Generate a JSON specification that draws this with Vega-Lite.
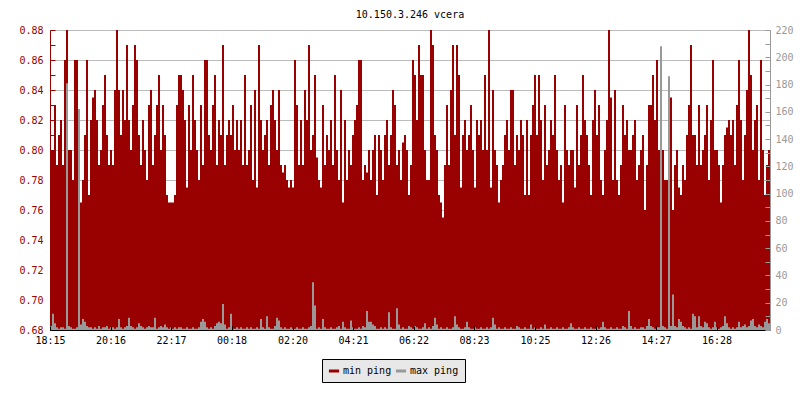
{
  "$schema": "https://vega.github.io/schema/vega-lite/v6.json",
  "width": 720,
  "height": 300,
  "autosize": {"type": "none"},
  "padding": {"left": 50, "top": 30, "right": 30, "bottom": 70},
  "background": "white",
  "title": {"text": "10.150.3.246 vcera", "font": "DejaVu Sans Mono", "fontSize": 10, "fontWeight": "normal", "color": "black", "anchor": "middle", "frame": "group", "offset": 5},
  "config": {"view": {"stroke": null}, "font": "DejaVu Sans Mono"},
  "data": {"values": [
    {"t":0,"a":0.80,"b":3},{"t":4,"a":0.80,"b":12},{"t":8,"a":0.83,"b":5},{"t":12,"a":0.79,"b":2},{"t":16,"a":0.81,"b":1},{"t":20,"a":0.82,"b":2},{"t":24,"a":0.79,"b":2},{"t":28,"a":0.86,"b":1},{"t":32,"a":0.88,"b":181},{"t":36,"a":0.80,"b":3},
    {"t":40,"a":0.80,"b":2},{"t":44,"a":0.78,"b":1},{"t":48,"a":0.86,"b":1},{"t":52,"a":0.86,"b":2},{"t":56,"a":0.77,"b":162},{"t":60,"a":0.765,"b":4},{"t":64,"a":0.78,"b":8},{"t":68,"a":0.81,"b":6},{"t":72,"a":0.86,"b":3},{"t":76,"a":0.77,"b":2},
    {"t":80,"a":0.82,"b":2},{"t":84,"a":0.835,"b":1},{"t":88,"a":0.84,"b":2},{"t":92,"a":0.82,"b":1},{"t":96,"a":0.79,"b":3},{"t":100,"a":0.80,"b":1},{"t":104,"a":0.83,"b":2},{"t":108,"a":0.85,"b":2},{"t":112,"a":0.81,"b":3},{"t":116,"a":0.79,"b":1},
    {"t":120,"a":0.80,"b":2},{"t":124,"a":0.79,"b":2},{"t":128,"a":0.84,"b":1},{"t":132,"a":0.88,"b":2},{"t":136,"a":0.84,"b":8},{"t":140,"a":0.81,"b":2},{"t":144,"a":0.84,"b":1},{"t":148,"a":0.82,"b":2},{"t":152,"a":0.87,"b":3},{"t":156,"a":0.82,"b":9},
    {"t":160,"a":0.80,"b":3},{"t":164,"a":0.83,"b":2},{"t":168,"a":0.87,"b":1},{"t":172,"a":0.86,"b":2},{"t":176,"a":0.81,"b":5},{"t":180,"a":0.79,"b":3},{"t":184,"a":0.82,"b":2},{"t":188,"a":0.80,"b":1},{"t":192,"a":0.78,"b":2},{"t":196,"a":0.83,"b":3},
    {"t":200,"a":0.84,"b":2},{"t":204,"a":0.79,"b":2},{"t":208,"a":0.81,"b":9},{"t":212,"a":0.83,"b":1},{"t":216,"a":0.85,"b":2},{"t":220,"a":0.80,"b":3},{"t":224,"a":0.83,"b":2},{"t":228,"a":0.81,"b":4},{"t":232,"a":0.77,"b":2},{"t":236,"a":0.765,"b":1},
    {"t":240,"a":0.765,"b":2},{"t":244,"a":0.765,"b":1},{"t":248,"a":0.77,"b":2},{"t":252,"a":0.83,"b":1},{"t":256,"a":0.85,"b":2},{"t":260,"a":0.85,"b":2},{"t":264,"a":0.84,"b":1},{"t":268,"a":0.82,"b":1},{"t":272,"a":0.775,"b":2},{"t":276,"a":0.83,"b":1},
    {"t":280,"a":0.80,"b":1},{"t":284,"a":0.85,"b":2},{"t":288,"a":0.82,"b":1},{"t":292,"a":0.80,"b":1},{"t":296,"a":0.78,"b":2},{"t":300,"a":0.83,"b":6},{"t":304,"a":0.79,"b":8},{"t":308,"a":0.86,"b":6},{"t":312,"a":0.86,"b":2},{"t":316,"a":0.81,"b":1},
    {"t":320,"a":0.80,"b":2},{"t":324,"a":0.83,"b":1},{"t":328,"a":0.85,"b":3},{"t":332,"a":0.79,"b":5},{"t":336,"a":0.82,"b":6},{"t":340,"a":0.81,"b":5},{"t":344,"a":0.87,"b":19},{"t":348,"a":0.79,"b":4},{"t":352,"a":0.81,"b":1},{"t":356,"a":0.82,"b":2},
    {"t":360,"a":0.81,"b":12},{"t":364,"a":0.83,"b":1},{"t":368,"a":0.80,"b":1},{"t":372,"a":0.82,"b":2},{"t":376,"a":0.80,"b":1},{"t":380,"a":0.82,"b":2},{"t":384,"a":0.79,"b":1},{"t":388,"a":0.85,"b":1},{"t":392,"a":0.79,"b":2},{"t":396,"a":0.80,"b":1},
    {"t":400,"a":0.83,"b":2},{"t":404,"a":0.78,"b":1},{"t":408,"a":0.84,"b":1},{"t":412,"a":0.775,"b":2},{"t":416,"a":0.87,"b":1},{"t":420,"a":0.82,"b":8},{"t":424,"a":0.80,"b":2},{"t":428,"a":0.81,"b":1},{"t":432,"a":0.82,"b":10},{"t":436,"a":0.79,"b":2},
    {"t":440,"a":0.83,"b":1},{"t":444,"a":0.84,"b":1},{"t":448,"a":0.82,"b":3},{"t":452,"a":0.80,"b":9},{"t":456,"a":0.84,"b":7},{"t":460,"a":0.79,"b":2},{"t":464,"a":0.785,"b":1},{"t":468,"a":0.79,"b":2},{"t":472,"a":0.78,"b":1},{"t":476,"a":0.775,"b":1},
    {"t":480,"a":0.78,"b":2},{"t":484,"a":0.775,"b":1},{"t":488,"a":0.86,"b":1},{"t":492,"a":0.83,"b":2},{"t":496,"a":0.79,"b":1},{"t":500,"a":0.82,"b":1},{"t":504,"a":0.79,"b":2},{"t":508,"a":0.84,"b":1},{"t":512,"a":0.82,"b":1},{"t":516,"a":0.87,"b":2},
    {"t":520,"a":0.80,"b":3},{"t":524,"a":0.81,"b":35},{"t":528,"a":0.85,"b":18},{"t":532,"a":0.795,"b":1},{"t":536,"a":0.78,"b":2},{"t":540,"a":0.775,"b":1},{"t":544,"a":0.83,"b":8},{"t":548,"a":0.79,"b":2},{"t":552,"a":0.81,"b":1},{"t":556,"a":0.80,"b":1},
    {"t":560,"a":0.82,"b":2},{"t":564,"a":0.79,"b":1},{"t":568,"a":0.85,"b":1},{"t":572,"a":0.80,"b":2},{"t":576,"a":0.78,"b":3},{"t":580,"a":0.84,"b":1},{"t":584,"a":0.765,"b":6},{"t":588,"a":0.82,"b":2},{"t":592,"a":0.78,"b":1},{"t":596,"a":0.80,"b":1},
    {"t":600,"a":0.79,"b":7},{"t":604,"a":0.81,"b":2},{"t":608,"a":0.82,"b":1},{"t":612,"a":0.83,"b":1},{"t":616,"a":0.86,"b":2},{"t":620,"a":0.86,"b":1},{"t":624,"a":0.78,"b":3},{"t":628,"a":0.79,"b":2},{"t":632,"a":0.785,"b":14},{"t":636,"a":0.80,"b":6},
    {"t":640,"a":0.78,"b":6},{"t":644,"a":0.80,"b":4},{"t":648,"a":0.81,"b":3},{"t":652,"a":0.77,"b":1},{"t":656,"a":0.81,"b":1},{"t":660,"a":0.80,"b":2},{"t":664,"a":0.78,"b":1},{"t":668,"a":0.81,"b":2},{"t":672,"a":0.82,"b":1},{"t":676,"a":0.79,"b":13},
    {"t":680,"a":0.81,"b":2},{"t":684,"a":0.84,"b":1},{"t":688,"a":0.83,"b":1},{"t":692,"a":0.79,"b":16},{"t":696,"a":0.80,"b":4},{"t":700,"a":0.78,"b":1},{"t":704,"a":0.805,"b":2},{"t":708,"a":0.81,"b":1},{"t":712,"a":0.80,"b":1},{"t":716,"a":0.77,"b":3},
    {"t":720,"a":0.79,"b":2},{"t":724,"a":0.86,"b":1},{"t":728,"a":0.85,"b":3},{"t":732,"a":0.82,"b":2},{"t":736,"a":0.87,"b":1},{"t":740,"a":0.85,"b":1},{"t":744,"a":0.85,"b":2},{"t":748,"a":0.80,"b":5},{"t":752,"a":0.78,"b":1},{"t":756,"a":0.78,"b":2},
    {"t":760,"a":0.88,"b":1},{"t":764,"a":0.87,"b":3},{"t":768,"a":0.81,"b":9},{"t":772,"a":0.80,"b":4},{"t":776,"a":0.77,"b":1},{"t":780,"a":0.765,"b":2},{"t":784,"a":0.755,"b":1},{"t":788,"a":0.79,"b":1},{"t":792,"a":0.83,"b":2},{"t":796,"a":0.79,"b":1},
    {"t":800,"a":0.84,"b":1},{"t":804,"a":0.87,"b":2},{"t":808,"a":0.81,"b":10},{"t":812,"a":0.87,"b":4},{"t":816,"a":0.85,"b":2},{"t":820,"a":0.775,"b":1},{"t":824,"a":0.81,"b":1},{"t":828,"a":0.82,"b":2},{"t":832,"a":0.80,"b":6},{"t":836,"a":0.81,"b":2},
    {"t":840,"a":0.83,"b":1},{"t":844,"a":0.80,"b":1},{"t":848,"a":0.775,"b":2},{"t":852,"a":0.82,"b":1},{"t":856,"a":0.81,"b":1},{"t":860,"a":0.82,"b":2},{"t":864,"a":0.80,"b":1},{"t":868,"a":0.85,"b":1},{"t":872,"a":0.80,"b":2},{"t":876,"a":0.88,"b":1},
    {"t":880,"a":0.775,"b":2},{"t":884,"a":0.84,"b":9},{"t":888,"a":0.80,"b":4},{"t":892,"a":0.79,"b":1},{"t":896,"a":0.765,"b":2},{"t":900,"a":0.78,"b":1},{"t":904,"a":0.79,"b":1},{"t":908,"a":0.81,"b":2},{"t":912,"a":0.82,"b":1},{"t":916,"a":0.80,"b":1},
    {"t":920,"a":0.84,"b":2},{"t":924,"a":0.84,"b":1},{"t":928,"a":0.79,"b":1},{"t":932,"a":0.81,"b":3},{"t":936,"a":0.80,"b":2},{"t":940,"a":0.82,"b":1},{"t":944,"a":0.81,"b":1},{"t":948,"a":0.77,"b":2},{"t":952,"a":0.82,"b":1},{"t":956,"a":0.77,"b":1},
    {"t":960,"a":0.81,"b":4},{"t":964,"a":0.83,"b":1},{"t":968,"a":0.85,"b":2},{"t":972,"a":0.81,"b":1},{"t":976,"a":0.85,"b":1},{"t":980,"a":0.82,"b":2},{"t":984,"a":0.78,"b":1},{"t":988,"a":0.83,"b":4},{"t":992,"a":0.79,"b":1},{"t":996,"a":0.80,"b":1},
    {"t":1000,"a":0.82,"b":2},{"t":1004,"a":0.81,"b":1},{"t":1008,"a":0.85,"b":1},{"t":1012,"a":0.80,"b":2},{"t":1016,"a":0.78,"b":1},{"t":1020,"a":0.79,"b":1},{"t":1024,"a":0.765,"b":2},{"t":1028,"a":0.83,"b":1},{"t":1032,"a":0.80,"b":1},{"t":1036,"a":0.79,"b":2},
    {"t":1040,"a":0.80,"b":5},{"t":1044,"a":0.80,"b":2},{"t":1048,"a":0.775,"b":1},{"t":1052,"a":0.83,"b":1},{"t":1056,"a":0.79,"b":2},{"t":1060,"a":0.81,"b":1},{"t":1064,"a":0.85,"b":1},{"t":1068,"a":0.82,"b":2},{"t":1072,"a":0.81,"b":1},{"t":1076,"a":0.79,"b":1},
    {"t":1080,"a":0.77,"b":2},{"t":1084,"a":0.82,"b":1},{"t":1088,"a":0.84,"b":1},{"t":1092,"a":0.81,"b":2},{"t":1096,"a":0.83,"b":1},{"t":1100,"a":0.78,"b":2},{"t":1104,"a":0.77,"b":6},{"t":1108,"a":0.80,"b":2},{"t":1112,"a":0.82,"b":1},{"t":1116,"a":0.88,"b":1},
    {"t":1120,"a":0.835,"b":2},{"t":1124,"a":0.78,"b":1},{"t":1128,"a":0.84,"b":1},{"t":1132,"a":0.78,"b":2},{"t":1136,"a":0.77,"b":1},{"t":1140,"a":0.79,"b":1},{"t":1144,"a":0.83,"b":3},{"t":1148,"a":0.81,"b":2},{"t":1152,"a":0.82,"b":1},{"t":1156,"a":0.80,"b":14},
    {"t":1160,"a":0.80,"b":3},{"t":1164,"a":0.81,"b":1},{"t":1168,"a":0.82,"b":2},{"t":1172,"a":0.78,"b":1},{"t":1176,"a":0.79,"b":1},{"t":1180,"a":0.80,"b":2},{"t":1184,"a":0.81,"b":2},{"t":1188,"a":0.76,"b":1},{"t":1192,"a":0.79,"b":3},{"t":1196,"a":0.83,"b":8},
    {"t":1200,"a":0.83,"b":3},{"t":1204,"a":0.85,"b":2},{"t":1208,"a":0.82,"b":1},{"t":1212,"a":0.86,"b":2},{"t":1216,"a":0.80,"b":2},{"t":1220,"a":0.78,"b":208},{"t":1224,"a":0.80,"b":3},{"t":1228,"a":0.78,"b":2},{"t":1232,"a":0.78,"b":1},{"t":1236,"a":0.80,"b":186},
    {"t":1240,"a":0.835,"b":3},{"t":1244,"a":0.76,"b":26},{"t":1248,"a":0.79,"b":3},{"t":1252,"a":0.80,"b":2},{"t":1256,"a":0.775,"b":8},{"t":1260,"a":0.77,"b":6},{"t":1264,"a":0.79,"b":3},{"t":1268,"a":0.78,"b":2},{"t":1272,"a":0.81,"b":1},{"t":1276,"a":0.83,"b":2},
    {"t":1280,"a":0.87,"b":1},{"t":1284,"a":0.81,"b":12},{"t":1288,"a":0.81,"b":10},{"t":1292,"a":0.79,"b":2},{"t":1296,"a":0.83,"b":10},{"t":1300,"a":0.79,"b":3},{"t":1304,"a":0.80,"b":2},{"t":1308,"a":0.81,"b":6},{"t":1312,"a":0.83,"b":5},{"t":1316,"a":0.78,"b":2},
    {"t":1320,"a":0.82,"b":1},{"t":1324,"a":0.86,"b":2},{"t":1328,"a":0.80,"b":6},{"t":1332,"a":0.80,"b":2},{"t":1336,"a":0.79,"b":1},{"t":1340,"a":0.765,"b":2},{"t":1344,"a":0.79,"b":3},{"t":1348,"a":0.81,"b":10},{"t":1352,"a":0.815,"b":5},{"t":1356,"a":0.82,"b":2},
    {"t":1360,"a":0.81,"b":1},{"t":1364,"a":0.82,"b":2},{"t":1368,"a":0.79,"b":1},{"t":1372,"a":0.83,"b":2},{"t":1376,"a":0.86,"b":6},{"t":1380,"a":0.82,"b":2},{"t":1384,"a":0.78,"b":3},{"t":1388,"a":0.81,"b":4},{"t":1392,"a":0.84,"b":2},{"t":1396,"a":0.88,"b":3},
    {"t":1400,"a":0.85,"b":7},{"t":1404,"a":0.80,"b":8},{"t":1408,"a":0.82,"b":3},{"t":1412,"a":0.83,"b":2},{"t":1416,"a":0.78,"b":4},{"t":1420,"a":0.86,"b":3},{"t":1424,"a":0.80,"b":2},{"t":1428,"a":0.77,"b":6},{"t":1432,"a":0.79,"b":8},{"t":1436,"a":0.80,"b":5},
    {"t":1440,"a":0.80,"b":5}
  ]},
  "encoding": {
    "x": {
      "field": "t", "type": "quantitative",
      "scale": {"domain": [0, 1440], "nice": false, "zero": false},
      "axis": {
        "values": [0, 121, 242, 363, 485, 606, 727, 848, 970, 1091, 1212, 1333],
        "labelExpr": "timeFormat(datetime(2024, 0, 1, 18, 15 + datum.value, 0), '%H:%M')",
        "title": null, "grid": false,
        "domainColor": "black", "tickColor": "black", "tickSize": -4,
        "labelColor": "black", "labelFont": "DejaVu Sans Mono", "labelFontSize": 10,
        "labelPadding": 9, "labelFlush": false, "labelOverlap": false, "zindex": 1
      }
    }
  },
  "layer": [
    {
      "mark": {"type": "area", "interpolate": "step-after"},
      "encoding": {
        "y": {
          "field": "a", "type": "quantitative",
          "scale": {"domain": [0.68, 0.88], "nice": false, "zero": false},
          "axis": {
            "values": [0.68, 0.69, 0.70, 0.71, 0.72, 0.73, 0.74, 0.75, 0.76, 0.77, 0.78, 0.79, 0.80, 0.81, 0.82, 0.83, 0.84, 0.85, 0.86, 0.87, 0.88],
            "labelExpr": "round(datum.value * 100) % 2 == 0 ? format(datum.value, '.2f') : ''",
            "title": null, "grid": true, "gridColor": "#bbbbbb",
            "gridOpacity": {"condition": {"test": "round(datum.value * 100) % 2 == 0", "value": 1}, "value": 0},
            "domainColor": "#990000", "tickColor": "#990000", "tickSize": -5,
            "labelColor": "#990000", "labelFont": "DejaVu Sans Mono", "labelFontSize": 10,
            "labelPadding": 12, "labelOverlap": false, "labelFlush": false, "zindex": 0
          }
        },
        "y2": {"datum": 0.68},
        "color": {
          "datum": "min ping", "type": "nominal",
          "scale": {"domain": ["min ping", "max ping"], "range": ["#990000", "#999999"]},
          "legend": {
            "orient": "none", "legendX": 272, "legendY": 329, "direction": "horizontal",
            "title": null, "fillColor": "#e8e8e8", "strokeColor": "black", "padding": 6,
            "symbolType": "M-0.85,-0.25H0.85V0.25H-0.85Z", "symbolSize": 144, "symbolStrokeWidth": 0,
            "labelExpr": "datum.label == 'max ping' ? 'max ping\u00a0\u00a0' : datum.label",
            "labelFont": "DejaVu Sans Mono", "labelFontSize": 10, "labelColor": "black",
            "columnPadding": 3, "labelOffset": 3
          }
        }
      }
    },
    {
      "mark": {"type": "area", "interpolate": "step-after"},
      "encoding": {
        "y": {
          "field": "b", "type": "quantitative",
          "scale": {"domain": [0, 220], "nice": false},
          "axis": {
            "orient": "right",
            "values": [0, 10, 20, 30, 40, 50, 60, 70, 80, 90, 100, 110, 120, 130, 140, 150, 160, 170, 180, 190, 200, 210, 220],
            "labelExpr": "datum.value % 20 == 0 ? datum.label : ''",
            "title": null, "grid": false,
            "domainColor": "#999999", "tickColor": "#999999", "tickSize": -5,
            "labelColor": "#999999", "labelFont": "DejaVu Sans Mono", "labelFontSize": 10,
            "labelPadding": 10, "labelOverlap": false, "labelFlush": false, "zindex": 1
          }
        },
        "y2": {"datum": 0},
        "color": {"datum": "max ping", "type": "nominal"}
      }
    }
  ],
  "resolve": {"scale": {"y": "independent"}}
}
